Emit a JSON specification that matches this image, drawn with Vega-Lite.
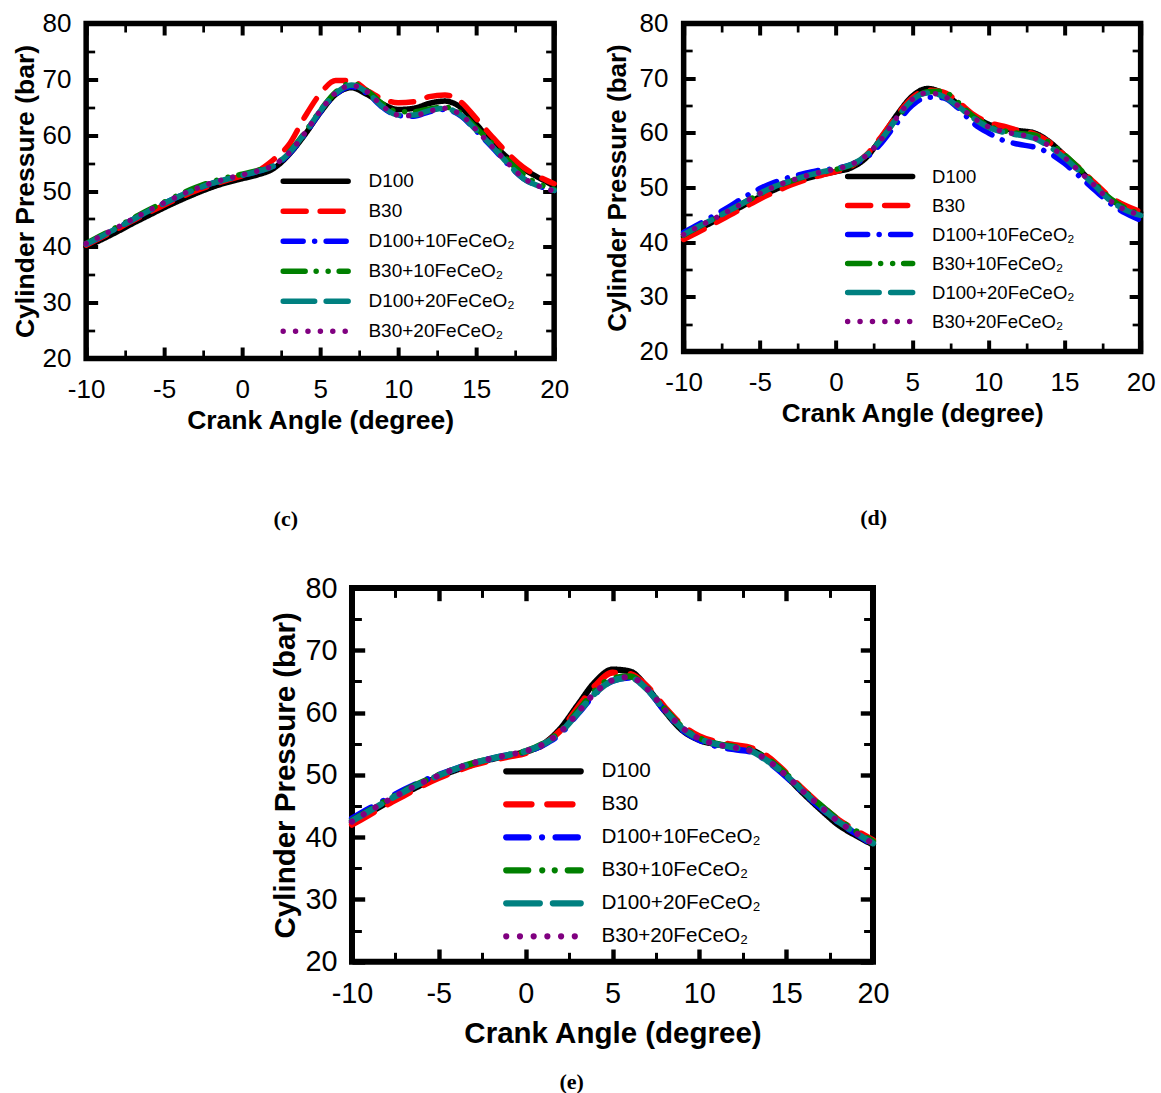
{
"$schema": "https://vega.github.io/schema/vega-lite/v6.json",
"background": "white",
"autosize": {"type": "pad"},
"padding": {"left": 10, "top": 7.5, "right": 0, "bottom": 0},
"datasets": {
"c": [
{"s":"D100","x":-10,"y":40.0},{"s":"D100","x":-9,"y":41.3},{"s":"D100","x":-8,"y":42.7},{"s":"D100","x":-7,"y":44.2},{"s":"D100","x":-6,"y":45.6},{"s":"D100","x":-5,"y":47.0},{"s":"D100","x":-4,"y":48.3},{"s":"D100","x":-3,"y":49.5},{"s":"D100","x":-2,"y":50.6},{"s":"D100","x":-1,"y":51.5},{"s":"D100","x":0,"y":52.2},{"s":"D100","x":1,"y":52.9},{"s":"D100","x":2,"y":54.0},{"s":"D100","x":3,"y":56.5},{"s":"D100","x":4,"y":60.0},{"s":"D100","x":5,"y":64.0},{"s":"D100","x":6,"y":67.3},{"s":"D100","x":7,"y":68.5},{"s":"D100","x":8,"y":67.3},{"s":"D100","x":9,"y":65.6},{"s":"D100","x":10,"y":64.6},{"s":"D100","x":11,"y":64.8},{"s":"D100","x":12,"y":65.7},{"s":"D100","x":13,"y":66.1},{"s":"D100","x":14,"y":65.0},{"s":"D100","x":15,"y":62.0},{"s":"D100","x":16,"y":58.8},{"s":"D100","x":17,"y":56.0},{"s":"D100","x":18,"y":54.0},{"s":"D100","x":19,"y":52.4},{"s":"D100","x":20,"y":50.9},
{"s":"B30","x":-10,"y":40.3},{"s":"B30","x":-9,"y":41.7},{"s":"B30","x":-8,"y":43.2},{"s":"B30","x":-7,"y":44.7},{"s":"B30","x":-6,"y":46.1},{"s":"B30","x":-5,"y":47.5},{"s":"B30","x":-4,"y":48.8},{"s":"B30","x":-3,"y":50.0},{"s":"B30","x":-2,"y":51.0},{"s":"B30","x":-1,"y":51.9},{"s":"B30","x":0,"y":52.7},{"s":"B30","x":1,"y":53.6},{"s":"B30","x":2,"y":55.6},{"s":"B30","x":3,"y":58.3},{"s":"B30","x":4,"y":63.2},{"s":"B30","x":5,"y":67.4},{"s":"B30","x":6,"y":69.8},{"s":"B30","x":7,"y":69.8},{"s":"B30","x":8,"y":68.0},{"s":"B30","x":9,"y":66.5},{"s":"B30","x":10,"y":65.8},{"s":"B30","x":11,"y":66.0},{"s":"B30","x":12,"y":66.9},{"s":"B30","x":13,"y":67.2},{"s":"B30","x":14,"y":66.0},{"s":"B30","x":15,"y":63.0},{"s":"B30","x":16,"y":59.8},{"s":"B30","x":17,"y":56.8},{"s":"B30","x":18,"y":54.3},{"s":"B30","x":19,"y":52.6},{"s":"B30","x":20,"y":51.3},
{"s":"D100+10FeCeO₂","x":-10,"y":40.5},{"s":"D100+10FeCeO₂","x":-9,"y":41.9},{"s":"D100+10FeCeO₂","x":-8,"y":43.4},{"s":"D100+10FeCeO₂","x":-7,"y":44.9},{"s":"D100+10FeCeO₂","x":-6,"y":46.4},{"s":"D100+10FeCeO₂","x":-5,"y":47.8},{"s":"D100+10FeCeO₂","x":-4,"y":49.1},{"s":"D100+10FeCeO₂","x":-3,"y":50.3},{"s":"D100+10FeCeO₂","x":-2,"y":51.3},{"s":"D100+10FeCeO₂","x":-1,"y":52.1},{"s":"D100+10FeCeO₂","x":0,"y":52.8},{"s":"D100+10FeCeO₂","x":1,"y":53.5},{"s":"D100+10FeCeO₂","x":2,"y":54.4},{"s":"D100+10FeCeO₂","x":3,"y":56.6},{"s":"D100+10FeCeO₂","x":4,"y":60.1},{"s":"D100+10FeCeO₂","x":5,"y":64.1},{"s":"D100+10FeCeO₂","x":6,"y":67.3},{"s":"D100+10FeCeO₂","x":7,"y":68.7},{"s":"D100+10FeCeO₂","x":8,"y":67.5},{"s":"D100+10FeCeO₂","x":9,"y":65.0},{"s":"D100+10FeCeO₂","x":10,"y":63.5},{"s":"D100+10FeCeO₂","x":11,"y":63.4},{"s":"D100+10FeCeO₂","x":12,"y":64.2},{"s":"D100+10FeCeO₂","x":13,"y":64.6},{"s":"D100+10FeCeO₂","x":14,"y":63.5},{"s":"D100+10FeCeO₂","x":15,"y":60.8},{"s":"D100+10FeCeO₂","x":16,"y":57.9},{"s":"D100+10FeCeO₂","x":17,"y":54.9},{"s":"D100+10FeCeO₂","x":18,"y":52.3},{"s":"D100+10FeCeO₂","x":19,"y":50.9},{"s":"D100+10FeCeO₂","x":20,"y":50.1},
{"s":"B30+10FeCeO₂","x":-10,"y":40.6},{"s":"B30+10FeCeO₂","x":-9,"y":42.1},{"s":"B30+10FeCeO₂","x":-8,"y":43.6},{"s":"B30+10FeCeO₂","x":-7,"y":45.1},{"s":"B30+10FeCeO₂","x":-6,"y":46.6},{"s":"B30+10FeCeO₂","x":-5,"y":48.0},{"s":"B30+10FeCeO₂","x":-4,"y":49.4},{"s":"B30+10FeCeO₂","x":-3,"y":50.6},{"s":"B30+10FeCeO₂","x":-2,"y":51.6},{"s":"B30+10FeCeO₂","x":-1,"y":52.4},{"s":"B30+10FeCeO₂","x":0,"y":53.0},{"s":"B30+10FeCeO₂","x":1,"y":53.7},{"s":"B30+10FeCeO₂","x":2,"y":54.6},{"s":"B30+10FeCeO₂","x":3,"y":56.9},{"s":"B30+10FeCeO₂","x":4,"y":60.4},{"s":"B30+10FeCeO₂","x":5,"y":64.4},{"s":"B30+10FeCeO₂","x":6,"y":67.7},{"s":"B30+10FeCeO₂","x":7,"y":69.3},{"s":"B30+10FeCeO₂","x":8,"y":68.0},{"s":"B30+10FeCeO₂","x":9,"y":65.6},{"s":"B30+10FeCeO₂","x":10,"y":64.2},{"s":"B30+10FeCeO₂","x":11,"y":64.2},{"s":"B30+10FeCeO₂","x":12,"y":64.7},{"s":"B30+10FeCeO₂","x":13,"y":65.0},{"s":"B30+10FeCeO₂","x":14,"y":64.0},{"s":"B30+10FeCeO₂","x":15,"y":61.3},{"s":"B30+10FeCeO₂","x":16,"y":58.6},{"s":"B30+10FeCeO₂","x":17,"y":55.6},{"s":"B30+10FeCeO₂","x":18,"y":53.0},{"s":"B30+10FeCeO₂","x":19,"y":51.3},{"s":"B30+10FeCeO₂","x":20,"y":50.3},
{"s":"D100+20FeCeO₂","x":-10,"y":40.5},{"s":"D100+20FeCeO₂","x":-9,"y":41.9},{"s":"D100+20FeCeO₂","x":-8,"y":43.4},{"s":"D100+20FeCeO₂","x":-7,"y":44.9},{"s":"D100+20FeCeO₂","x":-6,"y":46.4},{"s":"D100+20FeCeO₂","x":-5,"y":47.8},{"s":"D100+20FeCeO₂","x":-4,"y":49.1},{"s":"D100+20FeCeO₂","x":-3,"y":50.3},{"s":"D100+20FeCeO₂","x":-2,"y":51.3},{"s":"D100+20FeCeO₂","x":-1,"y":52.1},{"s":"D100+20FeCeO₂","x":0,"y":52.8},{"s":"D100+20FeCeO₂","x":1,"y":53.5},{"s":"D100+20FeCeO₂","x":2,"y":54.5},{"s":"D100+20FeCeO₂","x":3,"y":56.8},{"s":"D100+20FeCeO₂","x":4,"y":60.3},{"s":"D100+20FeCeO₂","x":5,"y":64.3},{"s":"D100+20FeCeO₂","x":6,"y":67.5},{"s":"D100+20FeCeO₂","x":7,"y":69.0},{"s":"D100+20FeCeO₂","x":8,"y":67.7},{"s":"D100+20FeCeO₂","x":9,"y":65.1},{"s":"D100+20FeCeO₂","x":10,"y":63.6},{"s":"D100+20FeCeO₂","x":11,"y":63.6},{"s":"D100+20FeCeO₂","x":12,"y":64.4},{"s":"D100+20FeCeO₂","x":13,"y":64.8},{"s":"D100+20FeCeO₂","x":14,"y":63.6},{"s":"D100+20FeCeO₂","x":15,"y":60.9},{"s":"D100+20FeCeO₂","x":16,"y":58.1},{"s":"D100+20FeCeO₂","x":17,"y":55.0},{"s":"D100+20FeCeO₂","x":18,"y":52.3},{"s":"D100+20FeCeO₂","x":19,"y":50.9},{"s":"D100+20FeCeO₂","x":20,"y":50.1},
{"s":"B30+20FeCeO₂","x":-10,"y":40.6},{"s":"B30+20FeCeO₂","x":-9,"y":42.0},{"s":"B30+20FeCeO₂","x":-8,"y":43.5},{"s":"B30+20FeCeO₂","x":-7,"y":45.0},{"s":"B30+20FeCeO₂","x":-6,"y":46.5},{"s":"B30+20FeCeO₂","x":-5,"y":47.9},{"s":"B30+20FeCeO₂","x":-4,"y":49.2},{"s":"B30+20FeCeO₂","x":-3,"y":50.4},{"s":"B30+20FeCeO₂","x":-2,"y":51.4},{"s":"B30+20FeCeO₂","x":-1,"y":52.2},{"s":"B30+20FeCeO₂","x":0,"y":52.9},{"s":"B30+20FeCeO₂","x":1,"y":53.6},{"s":"B30+20FeCeO₂","x":2,"y":54.6},{"s":"B30+20FeCeO₂","x":3,"y":56.8},{"s":"B30+20FeCeO₂","x":4,"y":60.3},{"s":"B30+20FeCeO₂","x":5,"y":64.3},{"s":"B30+20FeCeO₂","x":6,"y":67.6},{"s":"B30+20FeCeO₂","x":7,"y":68.9},{"s":"B30+20FeCeO₂","x":8,"y":67.8},{"s":"B30+20FeCeO₂","x":9,"y":65.2},{"s":"B30+20FeCeO₂","x":10,"y":63.6},{"s":"B30+20FeCeO₂","x":11,"y":63.5},{"s":"B30+20FeCeO₂","x":12,"y":64.3},{"s":"B30+20FeCeO₂","x":13,"y":64.8},{"s":"B30+20FeCeO₂","x":14,"y":63.7},{"s":"B30+20FeCeO₂","x":15,"y":61.0},{"s":"B30+20FeCeO₂","x":16,"y":58.0},{"s":"B30+20FeCeO₂","x":17,"y":55.1},{"s":"B30+20FeCeO₂","x":18,"y":52.4},{"s":"B30+20FeCeO₂","x":19,"y":50.9},{"s":"B30+20FeCeO₂","x":20,"y":50.0}
],
"d": [
{"s":"D100","x":-10,"y":41.0},{"s":"D100","x":-9,"y":42.4},{"s":"D100","x":-8,"y":43.8},{"s":"D100","x":-7,"y":45.3},{"s":"D100","x":-6,"y":46.8},{"s":"D100","x":-5,"y":48.3},{"s":"D100","x":-4,"y":49.6},{"s":"D100","x":-3,"y":50.7},{"s":"D100","x":-2,"y":51.6},{"s":"D100","x":-1,"y":52.3},{"s":"D100","x":0,"y":52.9},{"s":"D100","x":1,"y":53.6},{"s":"D100","x":2,"y":55.5},{"s":"D100","x":3,"y":59.2},{"s":"D100","x":4,"y":63.3},{"s":"D100","x":5,"y":66.7},{"s":"D100","x":6,"y":68.1},{"s":"D100","x":7,"y":67.3},{"s":"D100","x":8,"y":65.3},{"s":"D100","x":9,"y":63.2},{"s":"D100","x":10,"y":61.6},{"s":"D100","x":11,"y":60.8},{"s":"D100","x":12,"y":60.4},{"s":"D100","x":13,"y":60.0},{"s":"D100","x":14,"y":58.4},{"s":"D100","x":15,"y":55.9},{"s":"D100","x":16,"y":53.2},{"s":"D100","x":17,"y":50.5},{"s":"D100","x":18,"y":47.9},{"s":"D100","x":19,"y":46.3},{"s":"D100","x":20,"y":45.4},
{"s":"B30","x":-10,"y":40.5},{"s":"B30","x":-9,"y":41.9},{"s":"B30","x":-8,"y":43.4},{"s":"B30","x":-7,"y":44.9},{"s":"B30","x":-6,"y":46.4},{"s":"B30","x":-5,"y":47.9},{"s":"B30","x":-4,"y":49.2},{"s":"B30","x":-3,"y":50.4},{"s":"B30","x":-2,"y":51.4},{"s":"B30","x":-1,"y":52.2},{"s":"B30","x":0,"y":52.9},{"s":"B30","x":1,"y":53.9},{"s":"B30","x":2,"y":56.0},{"s":"B30","x":3,"y":59.4},{"s":"B30","x":4,"y":63.2},{"s":"B30","x":5,"y":66.4},{"s":"B30","x":6,"y":67.8},{"s":"B30","x":7,"y":67.5},{"s":"B30","x":8,"y":65.7},{"s":"B30","x":9,"y":63.4},{"s":"B30","x":10,"y":61.9},{"s":"B30","x":11,"y":61.2},{"s":"B30","x":12,"y":60.4},{"s":"B30","x":13,"y":59.8},{"s":"B30","x":14,"y":58.3},{"s":"B30","x":15,"y":55.9},{"s":"B30","x":16,"y":53.5},{"s":"B30","x":17,"y":50.8},{"s":"B30","x":18,"y":48.3},{"s":"B30","x":19,"y":46.7},{"s":"B30","x":20,"y":45.6},
{"s":"D100+10FeCeO₂","x":-10,"y":41.8},{"s":"D100+10FeCeO₂","x":-9,"y":43.3},{"s":"D100+10FeCeO₂","x":-8,"y":44.9},{"s":"D100+10FeCeO₂","x":-7,"y":46.5},{"s":"D100+10FeCeO₂","x":-6,"y":48.3},{"s":"D100+10FeCeO₂","x":-5,"y":49.8},{"s":"D100+10FeCeO₂","x":-4,"y":51.0},{"s":"D100+10FeCeO₂","x":-3,"y":51.9},{"s":"D100+10FeCeO₂","x":-2,"y":52.6},{"s":"D100+10FeCeO₂","x":-1,"y":53.2},{"s":"D100+10FeCeO₂","x":0,"y":53.5},{"s":"D100+10FeCeO₂","x":1,"y":54.2},{"s":"D100+10FeCeO₂","x":2,"y":55.5},{"s":"D100+10FeCeO₂","x":3,"y":58.2},{"s":"D100+10FeCeO₂","x":4,"y":61.8},{"s":"D100+10FeCeO₂","x":5,"y":65.0},{"s":"D100+10FeCeO₂","x":6,"y":66.5},{"s":"D100+10FeCeO₂","x":7,"y":66.4},{"s":"D100+10FeCeO₂","x":8,"y":64.6},{"s":"D100+10FeCeO₂","x":9,"y":61.8},{"s":"D100+10FeCeO₂","x":10,"y":60.0},{"s":"D100+10FeCeO₂","x":11,"y":58.6},{"s":"D100+10FeCeO₂","x":12,"y":57.9},{"s":"D100+10FeCeO₂","x":13,"y":57.4},{"s":"D100+10FeCeO₂","x":14,"y":56.3},{"s":"D100+10FeCeO₂","x":15,"y":54.4},{"s":"D100+10FeCeO₂","x":16,"y":52.0},{"s":"D100+10FeCeO₂","x":17,"y":49.5},{"s":"D100+10FeCeO₂","x":18,"y":47.1},{"s":"D100+10FeCeO₂","x":19,"y":45.3},{"s":"D100+10FeCeO₂","x":20,"y":44.0},
{"s":"B30+10FeCeO₂","x":-10,"y":41.3},{"s":"B30+10FeCeO₂","x":-9,"y":42.8},{"s":"B30+10FeCeO₂","x":-8,"y":44.3},{"s":"B30+10FeCeO₂","x":-7,"y":45.8},{"s":"B30+10FeCeO₂","x":-6,"y":47.3},{"s":"B30+10FeCeO₂","x":-5,"y":48.8},{"s":"B30+10FeCeO₂","x":-4,"y":50.1},{"s":"B30+10FeCeO₂","x":-3,"y":51.1},{"s":"B30+10FeCeO₂","x":-2,"y":52.0},{"s":"B30+10FeCeO₂","x":-1,"y":52.7},{"s":"B30+10FeCeO₂","x":0,"y":53.3},{"s":"B30+10FeCeO₂","x":1,"y":54.1},{"s":"B30+10FeCeO₂","x":2,"y":55.9},{"s":"B30+10FeCeO₂","x":3,"y":58.9},{"s":"B30+10FeCeO₂","x":4,"y":62.7},{"s":"B30+10FeCeO₂","x":5,"y":65.9},{"s":"B30+10FeCeO₂","x":6,"y":67.5},{"s":"B30+10FeCeO₂","x":7,"y":67.6},{"s":"B30+10FeCeO₂","x":8,"y":65.6},{"s":"B30+10FeCeO₂","x":9,"y":63.0},{"s":"B30+10FeCeO₂","x":10,"y":61.3},{"s":"B30+10FeCeO₂","x":11,"y":60.4},{"s":"B30+10FeCeO₂","x":12,"y":59.9},{"s":"B30+10FeCeO₂","x":13,"y":59.6},{"s":"B30+10FeCeO₂","x":14,"y":58.2},{"s":"B30+10FeCeO₂","x":15,"y":56.0},{"s":"B30+10FeCeO₂","x":16,"y":53.4},{"s":"B30+10FeCeO₂","x":17,"y":50.7},{"s":"B30+10FeCeO₂","x":18,"y":48.0},{"s":"B30+10FeCeO₂","x":19,"y":46.2},{"s":"B30+10FeCeO₂","x":20,"y":45.2},
{"s":"D100+20FeCeO₂","x":-10,"y":41.4},{"s":"D100+20FeCeO₂","x":-9,"y":42.9},{"s":"D100+20FeCeO₂","x":-8,"y":44.3},{"s":"D100+20FeCeO₂","x":-7,"y":45.8},{"s":"D100+20FeCeO₂","x":-6,"y":47.3},{"s":"D100+20FeCeO₂","x":-5,"y":48.9},{"s":"D100+20FeCeO₂","x":-4,"y":50.2},{"s":"D100+20FeCeO₂","x":-3,"y":51.2},{"s":"D100+20FeCeO₂","x":-2,"y":52.1},{"s":"D100+20FeCeO₂","x":-1,"y":52.8},{"s":"D100+20FeCeO₂","x":0,"y":53.4},{"s":"D100+20FeCeO₂","x":1,"y":54.2},{"s":"D100+20FeCeO₂","x":2,"y":55.9},{"s":"D100+20FeCeO₂","x":3,"y":58.9},{"s":"D100+20FeCeO₂","x":4,"y":62.7},{"s":"D100+20FeCeO₂","x":5,"y":66.0},{"s":"D100+20FeCeO₂","x":6,"y":67.3},{"s":"D100+20FeCeO₂","x":7,"y":66.7},{"s":"D100+20FeCeO₂","x":8,"y":64.9},{"s":"D100+20FeCeO₂","x":9,"y":62.7},{"s":"D100+20FeCeO₂","x":10,"y":61.0},{"s":"D100+20FeCeO₂","x":11,"y":60.1},{"s":"D100+20FeCeO₂","x":12,"y":59.6},{"s":"D100+20FeCeO₂","x":13,"y":59.0},{"s":"D100+20FeCeO₂","x":14,"y":57.5},{"s":"D100+20FeCeO₂","x":15,"y":55.4},{"s":"D100+20FeCeO₂","x":16,"y":52.9},{"s":"D100+20FeCeO₂","x":17,"y":50.3},{"s":"D100+20FeCeO₂","x":18,"y":47.6},{"s":"D100+20FeCeO₂","x":19,"y":45.9},{"s":"D100+20FeCeO₂","x":20,"y":44.9},
{"s":"B30+20FeCeO₂","x":-10,"y":41.4},{"s":"B30+20FeCeO₂","x":-9,"y":42.9},{"s":"B30+20FeCeO₂","x":-8,"y":44.3},{"s":"B30+20FeCeO₂","x":-7,"y":45.8},{"s":"B30+20FeCeO₂","x":-6,"y":47.3},{"s":"B30+20FeCeO₂","x":-5,"y":48.9},{"s":"B30+20FeCeO₂","x":-4,"y":50.2},{"s":"B30+20FeCeO₂","x":-3,"y":51.2},{"s":"B30+20FeCeO₂","x":-2,"y":52.1},{"s":"B30+20FeCeO₂","x":-1,"y":52.8},{"s":"B30+20FeCeO₂","x":0,"y":53.4},{"s":"B30+20FeCeO₂","x":1,"y":54.2},{"s":"B30+20FeCeO₂","x":2,"y":55.9},{"s":"B30+20FeCeO₂","x":3,"y":58.9},{"s":"B30+20FeCeO₂","x":4,"y":62.8},{"s":"B30+20FeCeO₂","x":5,"y":66.1},{"s":"B30+20FeCeO₂","x":6,"y":67.3},{"s":"B30+20FeCeO₂","x":7,"y":66.8},{"s":"B30+20FeCeO₂","x":8,"y":65.0},{"s":"B30+20FeCeO₂","x":9,"y":62.8},{"s":"B30+20FeCeO₂","x":10,"y":61.1},{"s":"B30+20FeCeO₂","x":11,"y":60.2},{"s":"B30+20FeCeO₂","x":12,"y":59.7},{"s":"B30+20FeCeO₂","x":13,"y":59.1},{"s":"B30+20FeCeO₂","x":14,"y":57.6},{"s":"B30+20FeCeO₂","x":15,"y":55.5},{"s":"B30+20FeCeO₂","x":16,"y":52.9},{"s":"B30+20FeCeO₂","x":17,"y":50.3},{"s":"B30+20FeCeO₂","x":18,"y":47.6},{"s":"B30+20FeCeO₂","x":19,"y":45.9},{"s":"B30+20FeCeO₂","x":20,"y":45.0}
],
"e": [
{"s":"D100","x":-10,"y":42.3},{"s":"D100","x":-9,"y":43.9},{"s":"D100","x":-8,"y":45.5},{"s":"D100","x":-7,"y":47.0},{"s":"D100","x":-6,"y":48.4},{"s":"D100","x":-5,"y":49.7},{"s":"D100","x":-4,"y":50.8},{"s":"D100","x":-3,"y":51.7},{"s":"D100","x":-2,"y":52.5},{"s":"D100","x":-1,"y":53.1},{"s":"D100","x":0,"y":53.7},{"s":"D100","x":1,"y":54.9},{"s":"D100","x":2,"y":57.4},{"s":"D100","x":3,"y":61.2},{"s":"D100","x":4,"y":64.9},{"s":"D100","x":5,"y":66.9},{"s":"D100","x":6,"y":66.6},{"s":"D100","x":7,"y":64.0},{"s":"D100","x":8,"y":60.3},{"s":"D100","x":9,"y":57.2},{"s":"D100","x":10,"y":55.6},{"s":"D100","x":11,"y":54.9},{"s":"D100","x":12,"y":54.5},{"s":"D100","x":13,"y":54.0},{"s":"D100","x":14,"y":52.3},{"s":"D100","x":15,"y":49.8},{"s":"D100","x":16,"y":47.0},{"s":"D100","x":17,"y":44.4},{"s":"D100","x":18,"y":42.0},{"s":"D100","x":19,"y":40.3},{"s":"D100","x":20,"y":38.8},
{"s":"B30","x":-10,"y":42.0},{"s":"B30","x":-9,"y":43.6},{"s":"B30","x":-8,"y":45.2},{"s":"B30","x":-7,"y":46.7},{"s":"B30","x":-6,"y":48.2},{"s":"B30","x":-5,"y":49.5},{"s":"B30","x":-4,"y":50.6},{"s":"B30","x":-3,"y":51.6},{"s":"B30","x":-2,"y":52.3},{"s":"B30","x":-1,"y":52.9},{"s":"B30","x":0,"y":53.5},{"s":"B30","x":1,"y":54.8},{"s":"B30","x":2,"y":57.1},{"s":"B30","x":3,"y":60.8},{"s":"B30","x":4,"y":64.3},{"s":"B30","x":5,"y":66.4},{"s":"B30","x":6,"y":66.2},{"s":"B30","x":7,"y":64.2},{"s":"B30","x":8,"y":60.9},{"s":"B30","x":9,"y":58.0},{"s":"B30","x":10,"y":56.2},{"s":"B30","x":11,"y":55.3},{"s":"B30","x":12,"y":54.8},{"s":"B30","x":13,"y":54.3},{"s":"B30","x":14,"y":52.8},{"s":"B30","x":15,"y":50.3},{"s":"B30","x":16,"y":47.6},{"s":"B30","x":17,"y":45.1},{"s":"B30","x":18,"y":42.8},{"s":"B30","x":19,"y":41.1},{"s":"B30","x":20,"y":39.5},
{"s":"D100+10FeCeO₂","x":-10,"y":43.0},{"s":"D100+10FeCeO₂","x":-9,"y":44.6},{"s":"D100+10FeCeO₂","x":-8,"y":46.1},{"s":"D100+10FeCeO₂","x":-7,"y":47.6},{"s":"D100+10FeCeO₂","x":-6,"y":48.9},{"s":"D100+10FeCeO₂","x":-5,"y":50.0},{"s":"D100+10FeCeO₂","x":-4,"y":51.0},{"s":"D100+10FeCeO₂","x":-3,"y":51.9},{"s":"D100+10FeCeO₂","x":-2,"y":52.6},{"s":"D100+10FeCeO₂","x":-1,"y":53.2},{"s":"D100+10FeCeO₂","x":0,"y":53.7},{"s":"D100+10FeCeO₂","x":1,"y":54.8},{"s":"D100+10FeCeO₂","x":2,"y":56.6},{"s":"D100+10FeCeO₂","x":3,"y":59.8},{"s":"D100+10FeCeO₂","x":4,"y":63.0},{"s":"D100+10FeCeO₂","x":5,"y":65.1},{"s":"D100+10FeCeO₂","x":6,"y":65.6},{"s":"D100+10FeCeO₂","x":7,"y":63.7},{"s":"D100+10FeCeO₂","x":8,"y":60.3},{"s":"D100+10FeCeO₂","x":9,"y":57.3},{"s":"D100+10FeCeO₂","x":10,"y":55.6},{"s":"D100+10FeCeO₂","x":11,"y":54.6},{"s":"D100+10FeCeO₂","x":12,"y":54.1},{"s":"D100+10FeCeO₂","x":13,"y":53.7},{"s":"D100+10FeCeO₂","x":14,"y":52.0},{"s":"D100+10FeCeO₂","x":15,"y":49.7},{"s":"D100+10FeCeO₂","x":16,"y":47.1},{"s":"D100+10FeCeO₂","x":17,"y":44.7},{"s":"D100+10FeCeO₂","x":18,"y":42.4},{"s":"D100+10FeCeO₂","x":19,"y":40.6},{"s":"D100+10FeCeO₂","x":20,"y":38.8},
{"s":"B30+10FeCeO₂","x":-10,"y":42.7},{"s":"B30+10FeCeO₂","x":-9,"y":44.3},{"s":"B30+10FeCeO₂","x":-8,"y":45.9},{"s":"B30+10FeCeO₂","x":-7,"y":47.4},{"s":"B30+10FeCeO₂","x":-6,"y":48.8},{"s":"B30+10FeCeO₂","x":-5,"y":50.0},{"s":"B30+10FeCeO₂","x":-4,"y":51.0},{"s":"B30+10FeCeO₂","x":-3,"y":51.9},{"s":"B30+10FeCeO₂","x":-2,"y":52.6},{"s":"B30+10FeCeO₂","x":-1,"y":53.2},{"s":"B30+10FeCeO₂","x":0,"y":53.8},{"s":"B30+10FeCeO₂","x":1,"y":55.0},{"s":"B30+10FeCeO₂","x":2,"y":57.0},{"s":"B30+10FeCeO₂","x":3,"y":60.2},{"s":"B30+10FeCeO₂","x":4,"y":63.5},{"s":"B30+10FeCeO₂","x":5,"y":65.5},{"s":"B30+10FeCeO₂","x":6,"y":65.8},{"s":"B30+10FeCeO₂","x":7,"y":63.9},{"s":"B30+10FeCeO₂","x":8,"y":60.6},{"s":"B30+10FeCeO₂","x":9,"y":57.7},{"s":"B30+10FeCeO₂","x":10,"y":55.9},{"s":"B30+10FeCeO₂","x":11,"y":55.0},{"s":"B30+10FeCeO₂","x":12,"y":54.5},{"s":"B30+10FeCeO₂","x":13,"y":54.0},{"s":"B30+10FeCeO₂","x":14,"y":52.4},{"s":"B30+10FeCeO₂","x":15,"y":50.1},{"s":"B30+10FeCeO₂","x":16,"y":47.5},{"s":"B30+10FeCeO₂","x":17,"y":45.1},{"s":"B30+10FeCeO₂","x":18,"y":42.8},{"s":"B30+10FeCeO₂","x":19,"y":41.0},{"s":"B30+10FeCeO₂","x":20,"y":39.3},
{"s":"D100+20FeCeO₂","x":-10,"y":42.6},{"s":"D100+20FeCeO₂","x":-9,"y":44.2},{"s":"D100+20FeCeO₂","x":-8,"y":45.8},{"s":"D100+20FeCeO₂","x":-7,"y":47.3},{"s":"D100+20FeCeO₂","x":-6,"y":48.7},{"s":"D100+20FeCeO₂","x":-5,"y":49.9},{"s":"D100+20FeCeO₂","x":-4,"y":51.0},{"s":"D100+20FeCeO₂","x":-3,"y":51.9},{"s":"D100+20FeCeO₂","x":-2,"y":52.6},{"s":"D100+20FeCeO₂","x":-1,"y":53.2},{"s":"D100+20FeCeO₂","x":0,"y":53.8},{"s":"D100+20FeCeO₂","x":1,"y":54.9},{"s":"D100+20FeCeO₂","x":2,"y":56.8},{"s":"D100+20FeCeO₂","x":3,"y":59.9},{"s":"D100+20FeCeO₂","x":4,"y":63.1},{"s":"D100+20FeCeO₂","x":5,"y":65.1},{"s":"D100+20FeCeO₂","x":6,"y":65.6},{"s":"D100+20FeCeO₂","x":7,"y":63.7},{"s":"D100+20FeCeO₂","x":8,"y":60.4},{"s":"D100+20FeCeO₂","x":9,"y":57.5},{"s":"D100+20FeCeO₂","x":10,"y":55.8},{"s":"D100+20FeCeO₂","x":11,"y":54.9},{"s":"D100+20FeCeO₂","x":12,"y":54.4},{"s":"D100+20FeCeO₂","x":13,"y":53.8},{"s":"D100+20FeCeO₂","x":14,"y":52.1},{"s":"D100+20FeCeO₂","x":15,"y":49.9},{"s":"D100+20FeCeO₂","x":16,"y":47.3},{"s":"D100+20FeCeO₂","x":17,"y":44.8},{"s":"D100+20FeCeO₂","x":18,"y":42.5},{"s":"D100+20FeCeO₂","x":19,"y":40.7},{"s":"D100+20FeCeO₂","x":20,"y":39.0},
{"s":"B30+20FeCeO₂","x":-10,"y":42.5},{"s":"B30+20FeCeO₂","x":-9,"y":44.2},{"s":"B30+20FeCeO₂","x":-8,"y":45.8},{"s":"B30+20FeCeO₂","x":-7,"y":47.3},{"s":"B30+20FeCeO₂","x":-6,"y":48.7},{"s":"B30+20FeCeO₂","x":-5,"y":49.9},{"s":"B30+20FeCeO₂","x":-4,"y":51.0},{"s":"B30+20FeCeO₂","x":-3,"y":51.9},{"s":"B30+20FeCeO₂","x":-2,"y":52.6},{"s":"B30+20FeCeO₂","x":-1,"y":53.2},{"s":"B30+20FeCeO₂","x":0,"y":53.8},{"s":"B30+20FeCeO₂","x":1,"y":54.9},{"s":"B30+20FeCeO₂","x":2,"y":56.9},{"s":"B30+20FeCeO₂","x":3,"y":60.0},{"s":"B30+20FeCeO₂","x":4,"y":63.2},{"s":"B30+20FeCeO₂","x":5,"y":65.2},{"s":"B30+20FeCeO₂","x":6,"y":65.7},{"s":"B30+20FeCeO₂","x":7,"y":63.8},{"s":"B30+20FeCeO₂","x":8,"y":60.5},{"s":"B30+20FeCeO₂","x":9,"y":57.6},{"s":"B30+20FeCeO₂","x":10,"y":55.8},{"s":"B30+20FeCeO₂","x":11,"y":54.9},{"s":"B30+20FeCeO₂","x":12,"y":54.4},{"s":"B30+20FeCeO₂","x":13,"y":53.8},{"s":"B30+20FeCeO₂","x":14,"y":52.2},{"s":"B30+20FeCeO₂","x":15,"y":49.9},{"s":"B30+20FeCeO₂","x":16,"y":47.3},{"s":"B30+20FeCeO₂","x":17,"y":44.9},{"s":"B30+20FeCeO₂","x":18,"y":42.5},{"s":"B30+20FeCeO₂","x":19,"y":40.7},{"s":"B30+20FeCeO₂","x":20,"y":39.0}
]
},
"vconcat": [
{
"hconcat": [
{
"width": 468, "height": 335,
"data": {"name": "c"},
"title": {"text": "(c)", "orient": "bottom", "anchor": "middle", "frame": "bounds", "offset": 75, "dx": -5, "font": "Liberation Serif", "fontSize": 22, "fontWeight": "bold", "color": "black"},
"view": {"stroke": "black", "strokeWidth": 5.5},
"layer": [
{"mark": {"type": "line", "interpolate": "monotone", "strokeWidth": 5.5, "strokeCap": "round", "strokeJoin": "round"},
"encoding": {
"x": {"field": "x", "type": "quantitative", "scale": {"domain": [-10, 20], "nice": false, "zero": false},
"axis": {"title": "Crank Angle (degree)", "values": [-10,-7.5,-5,-2.5,0,2.5,5,7.5,10,12.5,15,17.5,20], "labelExpr": "datum.value % 5 == 0 ? toString(datum.value) : ''", "tickSize": {"condition": {"test": "datum.value % 5 == 0", "value": -11.5}, "value": -8.5}, "tickWidth": {"condition": {"test": "datum.value % 5 == 0", "value": 4}, "value": 2.7}, "labelPadding": 29.3, "labelFontSize": 26, "titleFontSize": 26.5, "titlePadding": 2}},
"y": {"field": "y", "type": "quantitative", "scale": {"domain": [20, 80], "nice": false, "zero": false},
"axis": {"title": "Cylinder Pressure (bar)", "values": [20,25,30,35,40,45,50,55,60,65,70,75,80], "labelExpr": "datum.value % 10 == 0 ? toString(datum.value) : ''", "tickSize": {"condition": {"test": "datum.value % 10 == 0", "value": -11.5}, "value": -8.5}, "tickWidth": {"condition": {"test": "datum.value % 10 == 0", "value": 4}, "value": 2.7}, "labelPadding": 26.8, "labelFontSize": 26, "titleFontSize": 26.5, "titlePadding": 2}},
"color": {"field": "s", "type": "nominal", "scale": {"domain": ["D100","B30","D100+10FeCeO₂","B30+10FeCeO₂","D100+20FeCeO₂","B30+20FeCeO₂"], "range": ["#000000","#ff0000","#0000ff","#008000","#008080","#800080"]},
"legend": {"title": null, "orient": "none", "legendX": 194, "legendY": 142.7, "symbolSize": 4225, "symbolStrokeWidth": 5.5, "clipHeight": 30, "rowPadding": 0, "padding": 0, "labelOffset": 17.3, "labelFontSize": 19, "labelLimit": 400, "encode": {"symbols": {"update": {"strokeCap": {"value": "round"}}}}}},
"strokeDash": {"field": "s", "type": "nominal", "scale": {"domain": ["D100","B30","D100+10FeCeO₂","B30+10FeCeO₂","D100+20FeCeO₂","B30+20FeCeO₂"], "range": [[1,0],[23,14],[20,11.5,0.01,11.5],[22,11,0.01,12,0.01,11],[31.5,11.5],[0.01,12.4]]},
"legend": {"title": null, "orient": "none", "legendX": 194, "legendY": 142.7, "symbolSize": 4225, "symbolStrokeWidth": 5.5, "clipHeight": 30, "rowPadding": 0, "padding": 0, "labelOffset": 17.3, "labelFontSize": 19, "labelLimit": 400, "encode": {"symbols": {"update": {"strokeCap": {"value": "round"}}}}}}
}},
{"mark": {"type": "line", "opacity": 0},
"encoding": {
"x": {"field": "x", "type": "quantitative", "scale": {"domain": [-10, 20], "nice": false, "zero": false},
"axis": {"orient": "top", "title": null, "labels": false, "values": [-10,-7.5,-5,-2.5,0,2.5,5,7.5,10,12.5,15,17.5,20], "tickSize": {"condition": {"test": "datum.value % 5 == 0", "value": -11.5}, "value": -8.5}, "tickWidth": {"condition": {"test": "datum.value % 5 == 0", "value": 4}, "value": 2.7}}},
"y": {"field": "y", "type": "quantitative", "scale": {"domain": [20, 80], "nice": false, "zero": false},
"axis": {"orient": "right", "title": null, "labels": false, "values": [20,25,30,35,40,45,50,55,60,65,70,75,80], "tickSize": {"condition": {"test": "datum.value % 10 == 0", "value": -11.5}, "value": -8.5}, "tickWidth": {"condition": {"test": "datum.value % 10 == 0", "value": 4}, "value": 2.7}}}
}}
],
"resolve": {"scale": {"x": "independent", "y": "independent"}}
},
{
"width": 457, "height": 328,
"data": {"name": "d"},
"title": {"text": "(d)", "orient": "bottom", "anchor": "middle", "frame": "bounds", "offset": 82, "dx": -6, "font": "Liberation Serif", "fontSize": 22, "fontWeight": "bold", "color": "black"},
"view": {"stroke": "black", "strokeWidth": 5.5},
"layer": [
{"mark": {"type": "line", "interpolate": "monotone", "strokeWidth": 5.5, "strokeCap": "round", "strokeJoin": "round"},
"encoding": {
"x": {"field": "x", "type": "quantitative", "scale": {"domain": [-10, 20], "nice": false, "zero": false},
"axis": {"title": "Crank Angle (degree)", "values": [-10,-7.5,-5,-2.5,0,2.5,5,7.5,10,12.5,15,17.5,20], "labelExpr": "datum.value % 5 == 0 ? toString(datum.value) : ''", "tickSize": {"condition": {"test": "datum.value % 5 == 0", "value": -11.5}, "value": -8.5}, "tickWidth": {"condition": {"test": "datum.value % 5 == 0", "value": 4}, "value": 2.7}, "labelPadding": 29.3, "labelFontSize": 26, "titleFontSize": 26, "titlePadding": 2}},
"y": {"field": "y", "type": "quantitative", "scale": {"domain": [20, 80], "nice": false, "zero": false},
"axis": {"title": "Cylinder Pressure (bar)", "values": [20,25,30,35,40,45,50,55,60,65,70,75,80], "labelExpr": "datum.value % 10 == 0 ? toString(datum.value) : ''", "tickSize": {"condition": {"test": "datum.value % 10 == 0", "value": -11.5}, "value": -8.5}, "tickWidth": {"condition": {"test": "datum.value % 10 == 0", "value": 4}, "value": 2.7}, "labelPadding": 27.2, "labelFontSize": 26, "titleFontSize": 26, "titlePadding": 9}},
"color": {"field": "s", "type": "nominal", "scale": {"domain": ["D100","B30","D100+10FeCeO₂","B30+10FeCeO₂","D100+20FeCeO₂","B30+20FeCeO₂"], "range": ["#000000","#ff0000","#0000ff","#008000","#008080","#800080"]},
"legend": {"title": null, "orient": "none", "legendX": 161, "legendY": 138.5, "symbolSize": 4225, "symbolStrokeWidth": 5.5, "clipHeight": 29, "rowPadding": 0, "padding": 0, "labelOffset": 16.4, "labelFontSize": 18.5, "labelLimit": 400, "encode": {"symbols": {"update": {"strokeCap": {"value": "round"}}}}}},
"strokeDash": {"field": "s", "type": "nominal", "scale": {"domain": ["D100","B30","D100+10FeCeO₂","B30+10FeCeO₂","D100+20FeCeO₂","B30+20FeCeO₂"], "range": [[1,0],[23,14],[20,11.5,0.01,11.5],[22,11,0.01,12,0.01,11],[31.5,11.5],[0.01,12.4]]},
"legend": {"title": null, "orient": "none", "legendX": 161, "legendY": 138.5, "symbolSize": 4225, "symbolStrokeWidth": 5.5, "clipHeight": 29, "rowPadding": 0, "padding": 0, "labelOffset": 16.4, "labelFontSize": 18.5, "labelLimit": 400, "encode": {"symbols": {"update": {"strokeCap": {"value": "round"}}}}}}
}},
{"mark": {"type": "line", "opacity": 0},
"encoding": {
"x": {"field": "x", "type": "quantitative", "scale": {"domain": [-10, 20], "nice": false, "zero": false},
"axis": {"orient": "top", "title": null, "labels": false, "values": [-10,-7.5,-5,-2.5,0,2.5,5,7.5,10,12.5,15,17.5,20], "tickSize": {"condition": {"test": "datum.value % 5 == 0", "value": -11.5}, "value": -8.5}, "tickWidth": {"condition": {"test": "datum.value % 5 == 0", "value": 4}, "value": 2.7}}},
"y": {"field": "y", "type": "quantitative", "scale": {"domain": [20, 80], "nice": false, "zero": false},
"axis": {"orient": "right", "title": null, "labels": false, "values": [20,25,30,35,40,45,50,55,60,65,70,75,80], "tickSize": {"condition": {"test": "datum.value % 10 == 0", "value": -11.5}, "value": -8.5}, "tickWidth": {"condition": {"test": "datum.value % 10 == 0", "value": 4}, "value": 2.7}}}
}}
],
"resolve": {"scale": {"x": "independent", "y": "independent"}}
}
],
"spacing": 28.5,
"resolve": {"scale": {"color": "independent", "strokeDash": "independent"}, "legend": {"color": "independent", "strokeDash": "independent"}}
},
{
"width": 521, "height": 373.7,
"data": {"name": "e"},
"title": {"text": "(e)", "orient": "bottom", "anchor": "middle", "frame": "bounds", "offset": 24, "dx": -8, "font": "Liberation Serif", "fontSize": 22, "fontWeight": "bold", "color": "black"},
"view": {"stroke": "black", "strokeWidth": 6},
"layer": [
{"mark": {"type": "line", "interpolate": "monotone", "strokeWidth": 6.2, "strokeCap": "round", "strokeJoin": "round"},
"encoding": {
"x": {"field": "x", "type": "quantitative", "scale": {"domain": [-10, 20], "nice": false, "zero": false},
"axis": {"title": "Crank Angle (degree)", "values": [-10,-7.5,-5,-2.5,0,2.5,5,7.5,10,12.5,15,17.5,20], "labelExpr": "datum.value % 5 == 0 ? toString(datum.value) : ''", "tickSize": {"condition": {"test": "datum.value % 5 == 0", "value": -12.7}, "value": -9.4}, "tickWidth": {"condition": {"test": "datum.value % 5 == 0", "value": 4.4}, "value": 3}, "labelPadding": 30.7, "labelFontSize": 28.8, "titleFontSize": 29.5, "titlePadding": 8}},
"y": {"field": "y", "type": "quantitative", "scale": {"domain": [20, 80], "nice": false, "zero": false},
"axis": {"title": "Cylinder Pressure (bar)", "values": [20,25,30,35,40,45,50,55,60,65,70,75,80], "labelExpr": "datum.value % 10 == 0 ? toString(datum.value) : ''", "tickSize": {"condition": {"test": "datum.value % 10 == 0", "value": -12.7}, "value": -9.4}, "tickWidth": {"condition": {"test": "datum.value % 10 == 0", "value": 4.4}, "value": 3}, "labelPadding": 27.7, "labelFontSize": 28.8, "titleFontSize": 29.5, "titlePadding": 4.7}},
"color": {"field": "s", "type": "nominal", "scale": {"domain": ["D100","B30","D100+10FeCeO₂","B30+10FeCeO₂","D100+20FeCeO₂","B30+20FeCeO₂"], "range": ["#000000","#ff0000","#0000ff","#008000","#008080","#800080"]},
"legend": {"title": null, "orient": "none", "legendX": 151, "legendY": 167, "symbolSize": 5550, "symbolStrokeWidth": 6.2, "clipHeight": 32.7, "rowPadding": 0, "padding": 0, "labelOffset": 17.4, "labelFontSize": 20.7, "labelLimit": 400, "encode": {"symbols": {"update": {"strokeCap": {"value": "round"}}}}}},
"strokeDash": {"field": "s", "type": "nominal", "scale": {"domain": ["D100","B30","D100+10FeCeO₂","B30+10FeCeO₂","D100+20FeCeO₂","B30+20FeCeO₂"], "range": [[1,0],[25.3,15.7],[22.3,13.5,0.01,13.5],[22,14,0.01,12.5,0.01,13],[33.6,13],[0.01,13.7]]},
"legend": {"title": null, "orient": "none", "legendX": 151, "legendY": 167, "symbolSize": 5550, "symbolStrokeWidth": 6.2, "clipHeight": 32.7, "rowPadding": 0, "padding": 0, "labelOffset": 17.4, "labelFontSize": 20.7, "labelLimit": 400, "encode": {"symbols": {"update": {"strokeCap": {"value": "round"}}}}}}
}},
{"mark": {"type": "line", "opacity": 0},
"encoding": {
"x": {"field": "x", "type": "quantitative", "scale": {"domain": [-10, 20], "nice": false, "zero": false},
"axis": {"orient": "top", "title": null, "labels": false, "values": [-10,-7.5,-5,-2.5,0,2.5,5,7.5,10,12.5,15,17.5,20], "tickSize": {"condition": {"test": "datum.value % 5 == 0", "value": -12.7}, "value": -9.4}, "tickWidth": {"condition": {"test": "datum.value % 5 == 0", "value": 4.4}, "value": 3}}},
"y": {"field": "y", "type": "quantitative", "scale": {"domain": [20, 80], "nice": false, "zero": false},
"axis": {"orient": "right", "title": null, "labels": false, "values": [20,25,30,35,40,45,50,55,60,65,70,75,80], "tickSize": {"condition": {"test": "datum.value % 10 == 0", "value": -12.7}, "value": -9.4}, "tickWidth": {"condition": {"test": "datum.value % 10 == 0", "value": 4.4}, "value": 3}}}
}}
],
"resolve": {"scale": {"x": "independent", "y": "independent"}}
}
],
"spacing": 37.5,
"center": true,
"align": "each",
"resolve": {"scale": {"color": "independent", "strokeDash": "independent"}, "legend": {"color": "independent", "strokeDash": "independent"}},
"config": {
"font": "Liberation Sans",
"axis": {"labelColor": "black", "titleColor": "black", "tickColor": "black", "grid": false, "domain": false, "labelFont": "Liberation Sans", "titleFont": "Liberation Sans", "titleFontWeight": "bold", "labelFlush": false, "labelOverlap": false},
"legend": {"labelFont": "Liberation Sans", "labelColor": "black"},
"view": {"stroke": "black", "strokeWidth": 5.5}
}
}
